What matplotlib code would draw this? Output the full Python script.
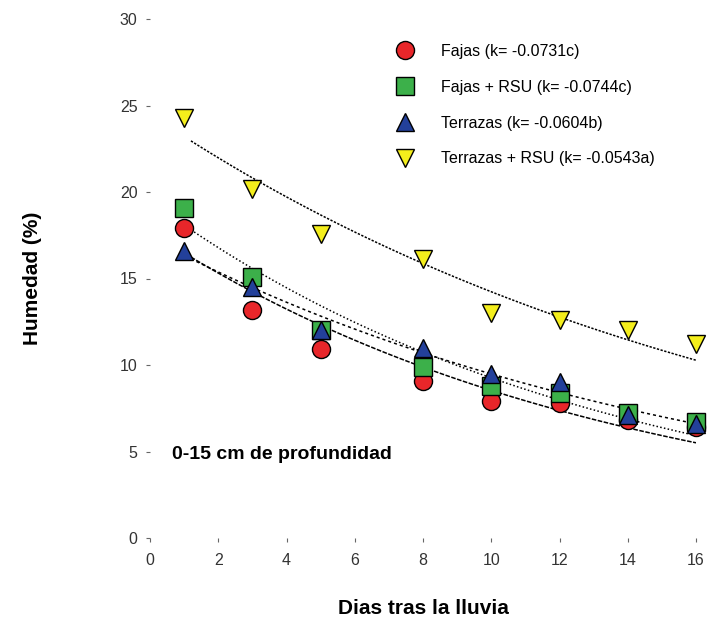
import numpy as np
import matplotlib.pyplot as plt

plt.rcParams['font.family'] = ['Liberation Sans', 'DejaVu Sans']

dias = [1, 3, 5, 8, 10, 12, 14, 16]
fajas = [17.9, 13.2, 10.9, 9.1, 7.9, 7.8, 6.8, 6.4]
fajas_rsu = [19.1, 15.1, 12.0, 9.9, 8.8, 8.4, 7.2, 6.7]
terrazas = [16.6, 14.5, 12.0, 11.0, 9.5, 9.0, 7.1, 6.6]
terrazas_rsu = [24.3, 20.2, 17.6, 16.1, 13.0, 12.6, 12.0, 11.2]
k_valores = [-0.0731, -0.0744, -0.0604, -0.0543]

etiquetas = ['Fajas (k= -0.0731c)', 'Fajas + RSU (k= -0.0744c)',
             'Terrazas (k= -0.0604b)', 'Terrazas + RSU (k= -0.0543a)']
colores = ['#e8262a', '#3cb04a', '#23409a', '#f4ee1c']
marcadores = ['o', 's', '^', 'v']
estilos = [(0, (3, 1)), (0, (1, 1.5)), (0, (2, 2)), (0, (1.5, 1))]
series = [fajas, fajas_rsu, terrazas, terrazas_rsu]

fig = plt.figure(figsize=(7.11, 6.26), dpi=100)
ax = fig.add_axes([150 / 711, 88 / 626, 546 / 711, 519 / 626])

x = np.array(dias, dtype=float)
xs = np.linspace(1.2, 16, 100)
# curva y = a*exp(k*t) con la k de la leyenda, a ajustada a los datos
for y, k, ls in zip(series, k_valores, estilos):
    a = np.exp(np.mean(np.log(y) - k * x))
    ax.plot(xs, a * np.exp(k * xs), color='black', lw=1.1, linestyle=ls)

# orden de dibujo: amarillos, rojos, verdes, azules arriba
for i in [3, 0, 1, 2]:
    ax.plot(dias, series[i], linestyle='none', marker=marcadores[i], color=colores[i],
            markersize=13, markeredgecolor='black', markeredgewidth=1,
            label=etiquetas[i], clip_on=False, zorder=3)

h, l = ax.get_legend_handles_labels()
orden = [l.index(e) for e in etiquetas]
ax.legend([h[i] for i in orden], [l[i] for i in orden], loc='upper left',
          bbox_to_anchor=(395 / 711, 1 - 44 / 626), bbox_transform=fig.transFigure,
          frameon=False, fontsize=11.5, handlelength=1.2, handletextpad=1.65,
          labelspacing=1.3, borderpad=0, borderaxespad=0)

ax.text(0.65, 4.8, '0-15 cm de profundidad', fontsize=14, fontweight='bold', va='center')

ax.set_xlim(0, 16)
ax.set_ylim(0, 30)
ax.set_xticks(range(0, 17, 2))
ax.set_yticks(range(0, 31, 5))
for s in ax.spines.values():
    s.set_visible(False)
ax.tick_params(axis='both', length=3, width=0.8, color='#666666', labelsize=11.5,
               labelcolor='#333333')
ax.tick_params(axis='y', pad=6)
ax.tick_params(axis='x', pad=8)

ax.set_xlabel('Dias tras la lluvia', fontsize=15, fontweight='bold', labelpad=22)
ax.set_ylabel('Humedad (%)', fontsize=15, fontweight='bold', labelpad=56)

fig.savefig('out.png', dpi=100)
